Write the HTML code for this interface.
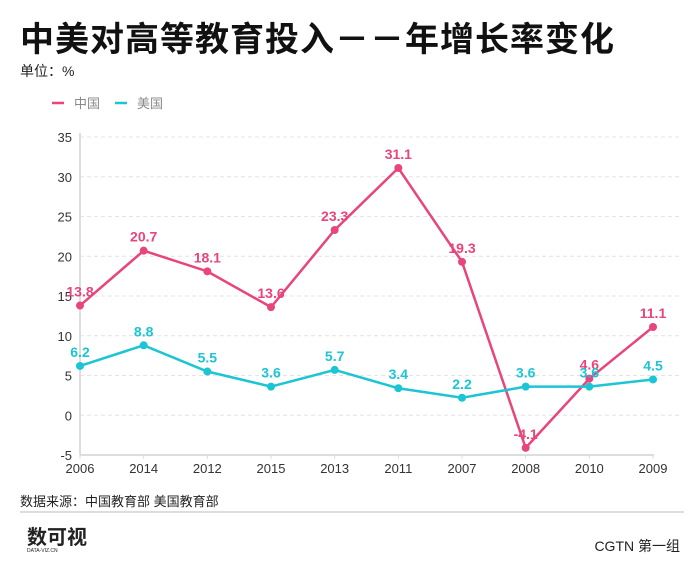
<!DOCTYPE html>
<html><head><meta charset="utf-8"><style>
body{margin:0;background:#fff;font-family:"Liberation Sans","Noto Sans CJK SC",sans-serif;}
#wrap{position:relative;width:700px;height:576px;overflow:hidden;}
</style></head><body>
<div id="wrap">
<div style="position:absolute;left:20px;top:12px;font-size:34px;font-weight:bold;color:#111;letter-spacing:1px;white-space:nowrap;">中美对高等教育投入－－年增长率变化</div>
<div style="position:absolute;left:20px;top:61px;font-size:14px;color:#222;">单位：%</div>
<svg id="chart" width="700" height="576" style="position:absolute;left:0;top:0"></svg>
<div style="position:absolute;left:20px;top:491px;font-size:13px;color:#222;">数据来源：中国教育部 美国教育部</div>
<div style="position:absolute;left:20px;top:511px;width:664px;height:2px;background:#ddd;"></div>
<div style="position:absolute;left:27px;top:528px;font-size:20px;font-weight:bold;color:#222;line-height:20px;">数可视<div style="font-size:5px;line-height:6px;font-weight:normal;">DATA-VIZ.CN</div></div>
<div style="position:absolute;right:20px;top:536px;font-size:14px;color:#222;">CGTN 第一组</div>
</div>
<script>
const categories=["2006","2014","2012","2015","2013","2011","2007","2008","2010","2009"];
const chinaValues=[13.8,20.7,18.1,13.6,23.3,31.1,19.3,-4.1,4.6,11.1];
const usValues=[6.2,8.8,5.5,3.6,5.7,3.4,2.2,3.6,3.6,4.5];
const yTicks=[-5,0,5,10,15,20,25,30,35];
const NS="http://www.w3.org/2000/svg";
const svg=document.getElementById('chart');
const x0=80,x1=653,yTop=137,yBot=455,yMin=-5,yMax=35;
const xs=i=>x0+i*(x1-x0)/(categories.length-1);
const ys=v=>yBot-(v-yMin)*(yBot-yTop)/(yMax-yMin);
function mk(t,a){const e=document.createElementNS(NS,t);for(const k in a)e.setAttribute(k,a[k]);svg.appendChild(e);return e;}
yTicks.forEach(v=>{
 if(v!==yMin){const g=mk('line',{x1:x0,x2:680,y1:ys(v),y2:ys(v),stroke:'#e4e4e4','stroke-dasharray':'4,3'});
 
 }
 const t=mk('text',{x:x0-8,y:ys(v)+5,'text-anchor':'end','font-size':13,fill:'#333'});t.textContent=v;
 
 
});
const ax=mk('line',{x1:x0,x2:x0,y1:yTop-4,y2:yBot,stroke:'#ddd','stroke-width':2});


const bx=mk('line',{x1:x0,x2:x1+1,y1:yBot,y2:yBot,stroke:'#ddd','stroke-width':2});


categories.forEach((c,i)=>{
 const tk=mk('line',{x1:xs(i),x2:xs(i),y1:yBot,y2:yBot+4,stroke:'#ddd'});
 
 
 const t=mk('text',{x:xs(i),y:yBot+18,'text-anchor':'middle','font-size':13,fill:'#333'});t.textContent=c;
 
 
});
function series(vals,color,name){
 const p=mk('polyline',{points:vals.map((v,i)=>xs(i)+','+ys(v)).join(' '),fill:'none',stroke:color,'stroke-width':2.5});
 
 
 vals.forEach((v,i)=>{
  const c=mk('circle',{cx:xs(i),cy:ys(v),r:4,fill:color});
  
  
  const t=mk('text',{x:xs(i),y:ys(v)-9,'text-anchor':'middle','font-size':14,'font-weight':'bold',fill:color});t.textContent=v;
  
  
 });
}
series(chinaValues,'#e8457c','china');
series(usValues,'#1bc5d3','us');
[['中国','#e8457c',52],['美国','#1bc5d3',115]].forEach(([n,c,x])=>{
 const l=mk('line',{x1:x,x2:x+12,y1:103,y2:103,stroke:c,'stroke-width':2.5});
 
 
 const t=mk('text',{x:x+22,y:108,'font-size':13,fill:'#888'});t.textContent=n;
 
 
});
</script>
</body></html>
